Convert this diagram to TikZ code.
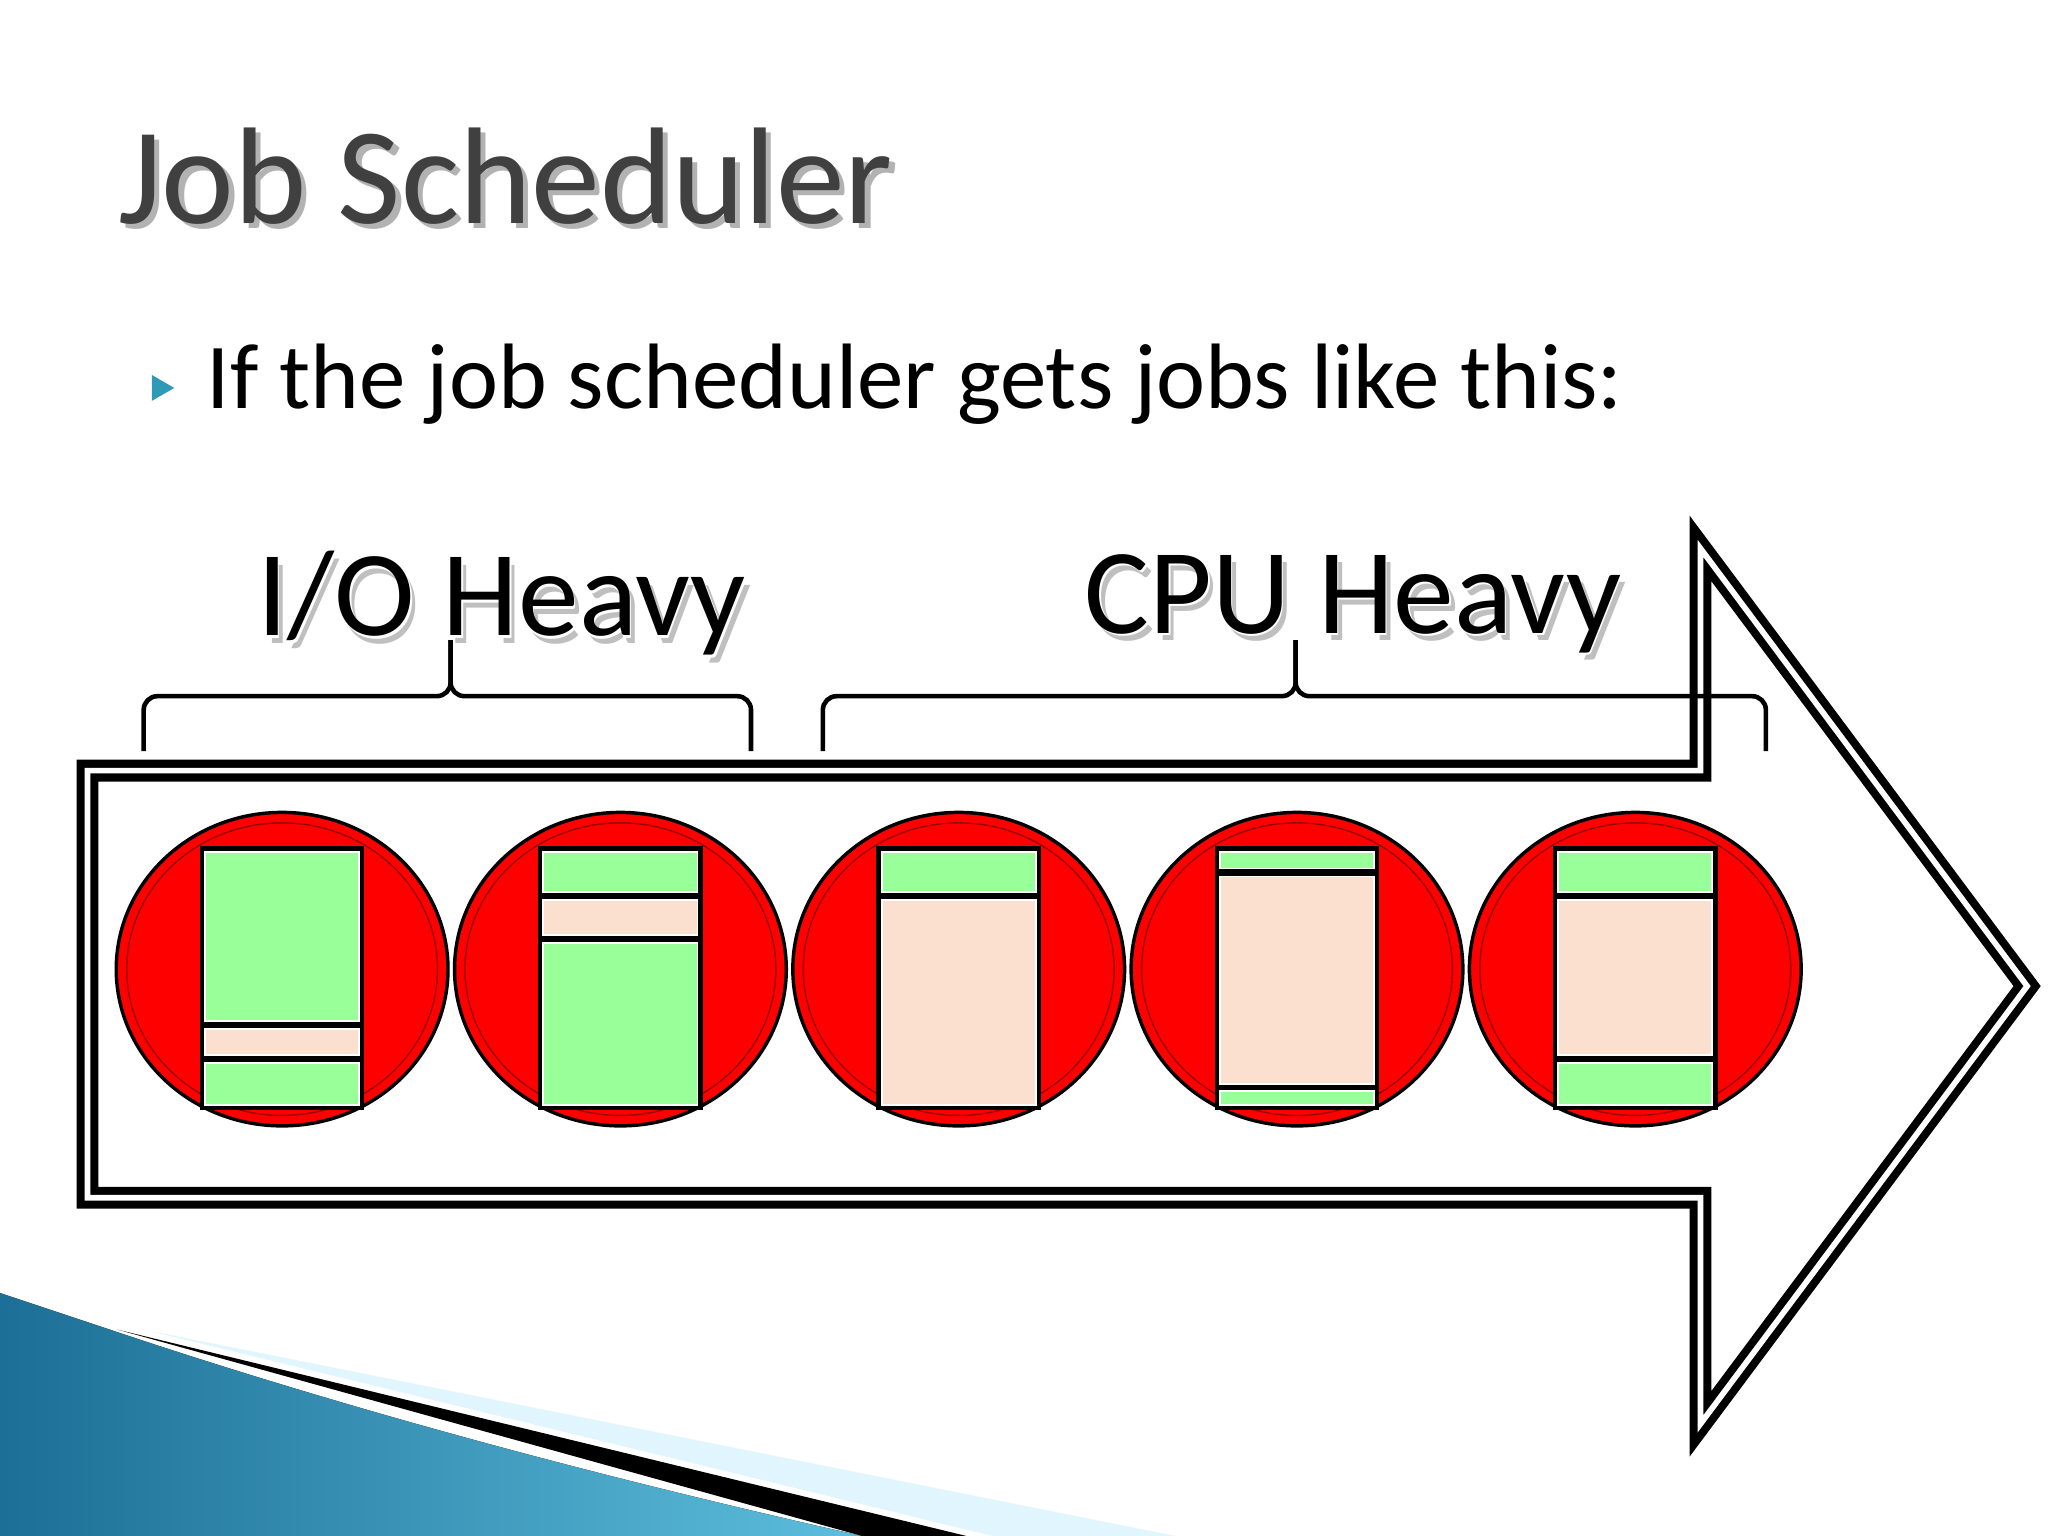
\documentclass[tikz,border=0pt]{standalone}
\usepackage{fontspec}
\setmainfont{Carlito}
\usetikzlibrary{shadings,shapes.geometric}
\definecolor{jgreen}{HTML}{99FF99}
\definecolor{jpeach}{HTML}{FBE0D0}
\definecolor{jteal}{HTML}{2E9AB5}
\definecolor{swl}{HTML}{1C6F96}
\definecolor{swr}{HTML}{5DBEDD}
\tikzset{
  job/.style={draw=black,line width=1.5pt,fill=red},
  brace/.style={draw=black,line width=2pt,rounded corners=6pt},
  lab/.style={font=\fontsize{53}{53}\selectfont,inner sep=0pt},
}
\begin{document}
\begin{tikzpicture}[x=0.02cm,y=-0.02cm]
\useasboundingbox (0,0) rectangle (1568,1176);
% bottom-left decoration
\fill[left color=swl, right color=swr] (0,990) -- (90,1020) .. controls (300,1090) and (500,1140) .. (660,1176) -- (0,1176) -- cycle;
\fill[black] (90,1018) -- (660,1176) -- (740,1176) -- cycle;
\fill[cyan!12] (110,1018) -- (900,1176) -- (760,1176) -- cycle;
% title
\node[anchor=base west,inner sep=0pt,text=gray!60,font=\fontsize{60}{60}\selectfont] at (94,175) {Job Scheduler};
\node[anchor=base west,inner sep=0pt,text=black!75,font=\fontsize{60}{60}\selectfont] (title) at (90,171) {Job Scheduler};
% bullet
\node[fill=jteal,regular polygon,regular polygon sides=3,shape border rotate=-90,inner sep=0pt,minimum size=13pt] (bul) at (122,297) {};
\node[anchor=base west,inner sep=0pt,font=\fontsize{40.5}{40.5}\selectfont] (txt) at (158,313) {If the job scheduler gets jobs like this:};
% arrow
\draw[line width=3.5pt,double=white,double distance=2.5pt,line join=miter]
  (67,590) -- (1302,590) -- (1302,420) -- (1552,755) -- (1302,1090) -- (1302,917) -- (67,917) -- cycle;
% braces
\draw[brace] (110,575) -- (110,533) -- (345,533) -- (345,490);
\draw[brace] (345,490) -- (345,533) -- (575,533) -- (575,575);
\draw[brace] (630,575) -- (630,533) -- (992,533) -- (992,490);
\draw[brace] (992,490) -- (992,533) -- (1352,533) -- (1352,575);
% labels
\node[lab,text=gray!50] at (388,468) {I/O Heavy};
\node[lab,text=white] at (385,464) {I/O Heavy};
\node[lab] (io) at (384,462) {I/O Heavy};
\node[lab,text=gray!50] at (1040,468) {CPU Heavy};
\node[lab,text=white] at (1037,464) {CPU Heavy};
\node[lab] (cpu) at (1036,462) {CPU Heavy};
% jobs
\newcommand{\jobcirc}[2]{%
  \draw[job] (#1,742) ellipse (127 and 120);
  \draw[red!60!black,line width=0.6pt] (#1,742) ellipse (119 and 112);
  \fill[black] (#1-63,648) rectangle (#1+63,850);
  #2}
\newcommand{\sg}[4]{\fill[#4] (#1-59,#2) rectangle (#1+59,#3); \draw[white,line width=0.8pt] (#1-59,#2) rectangle (#1+59,#3);}
\jobcirc{216}{\sg{216}{652}{782}{jgreen}\sg{216}{788}{808}{jpeach}\sg{216}{814}{846}{jgreen}}
\jobcirc{475}{\sg{475}{652}{683}{jgreen}\sg{475}{689}{716}{jpeach}\sg{475}{722}{846}{jgreen}}
\jobcirc{734}{\sg{734}{652}{683}{jgreen}\sg{734}{689}{846}{jpeach}}
\jobcirc{993}{\sg{993}{652}{665}{jgreen}\sg{993}{671}{830}{jpeach}\sg{993}{835}{846}{jgreen}}
\jobcirc{1252}{\sg{1252}{652}{683}{jgreen}\sg{1252}{689}{808}{jpeach}\sg{1252}{814}{846}{jgreen}}
\end{tikzpicture}
\end{document}
